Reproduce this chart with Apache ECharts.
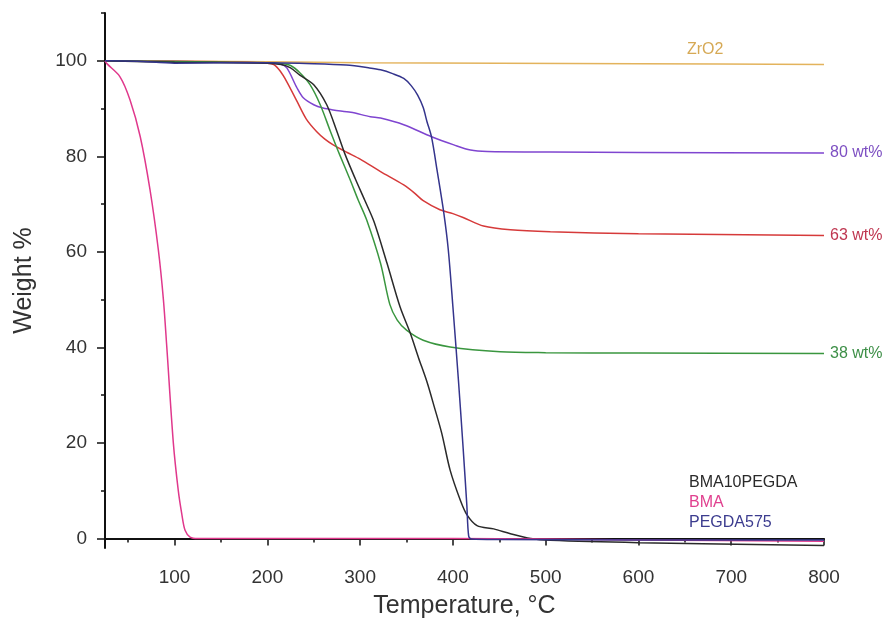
<!DOCTYPE html>
<html>
<head>
<meta charset="utf-8">
<script src="https://cdn.jsdelivr.net/npm/echarts@6.0.0/dist/echarts.min.js"></script>
<style>
html,body{margin:0;padding:0;background:#fff;}
#chart{width:885px;height:630px;}
</style>
</head>
<body>
<div id="chart"></div>
<script>
// ---- data: [temperature °C, weight %] ----
const zro2Data = [[25,100],[200,99.8],[300,99.6],[450,99.5],[600,99.4],[800,99.2]];
const wt80Data = [[25,100],[200,99.6],[214,99.3],[221,98.5],[232,94.3],[239,92.2],[250,90.8],[260,90.1],[271,89.7],[290,89.2],[311,88.3],[322,88],[347,86.6],[377,84.1],[401,82.4],[419,81.3],[437,81],[505,80.9],[600,80.8],[800,80.7]];
const wt63Data = [[25,100],[150,99.8],[200,99.5],[207,99.2],[214,97.8],[221,95.6],[232,91.5],[242,87.8],[253,85.2],[262,83.6],[271,82.4],[286,80.8],[300,79.4],[322,76.8],[347,74],[358,72.4],[368,70.7],[386,68.8],[400,68],[411,67.2],[433,65.4],[462,64.6],[505,64.2],[600,63.8],[800,63.4]];
const wt38Data = [[25,100],[200,99.6],[215,99.4],[225,99],[235,97.5],[246,95],[257,90.8],[268,85.2],[278,80.3],[289,75.2],[298,70.8],[307,66.7],[322,57.6],[332,49],[340,45.7],[350,43.6],[368,41.5],[397,40.1],[451,39.1],[500,38.9],[600,38.8],[800,38.7]];
const bma10pegdaData = [[25,100],[100,99.7],[200,99.5],[215,99.2],[225,98.5],[235,97],[250,95],[264,90.8],[275,85.2],[284,80.3],[295,75.2],[305,70.8],[315,66.3],[329,57.6],[343,48.5],[354,43],[363,37.8],[372,32.8],[380,27.5],[388,22],[397,14.3],[408,8],[415,5],[426,2.7],[444,2],[462,1],[484,0],[505,-0.4],[600,-0.9],[800,-1.5]];
const bmaData = [[25,100],[27,99.4],[41,96.7],[52,91.8],[63,84.1],[73.5,73],[82.5,60.4],[88,49.9],[91.6,40.1],[98.7,19.9],[104,10],[107.7,5.2],[111.3,1.7],[116.7,0.3],[125,0],[200,0],[400,0],[600,-0.3],[800,-0.6]];
const pegda575Data = [[25,100],[60,99.9],[100,99.5],[150,99.6],[200,99.6],[250,99.4],[285,99.1],[310,98.5],[322,98.1],[335,97.3],[347,96.3],[355,94.8],[362,92.8],[368,90.2],[372,87.3],[377,84],[383,77],[390,68.4],[395,60.5],[400,48.5],[406,33],[411,19],[415,7],[417,0.5],[420,-0.1],[450,-0.2],[600,-0.3],[800,-0.3]];

const xMajorTicks = [100,200,300,400,500,600,700,800];
const xMinorTicks = [50,150,250,350,450,550,650,750];
const yMajorTicks = [0,20,40,60,80,100];
const yMinorTicks = [10,30,50,70,90,110];

const FONT = 'Liberation Sans, Arial, sans-serif';
const AXIS_COLOR = '#111';
const TEXT_COLOR = '#333';

function line(name, data, color, label, labelColor) {
  const s = {
    name: name, type: 'line', data: data, showSymbol: false, symbol: 'none',
    smooth: 0.3, xAxisIndex: 0, yAxisIndex: 0,
    lineStyle: { color: color, width: 1.5 }, itemStyle: { color: color },
    silent: true
  };
  if (label) {
    s.endLabel = { show: true, formatter: label, color: labelColor, fontSize: 16, fontFamily: FONT, distance: 6 };
  }
  return s;
}

const chart = echarts.init(document.getElementById('chart'), null, { renderer: 'canvas' });
chart.setOption({
  animation: false,
  backgroundColor: '#fff',
  grid: { left: 105, right: 61, top: 13, bottom: 82 },
  xAxis: [{
    type: 'value', min: 25, max: 800, position: 'bottom',
    name: 'Temperature, °C', nameLocation: 'middle', nameGap: 46,
    nameTextStyle: { fontSize: 25, color: TEXT_COLOR, fontFamily: FONT },
    axisLine: { show: true, lineStyle: { color: AXIS_COLOR, width: 2 } },
    axisTick: { show: true, customValues: xMajorTicks, length: 7, lineStyle: { color: AXIS_COLOR, width: 1.5 } },
    axisLabel: { customValues: xMajorTicks, fontSize: 19, color: TEXT_COLOR, fontFamily: FONT, margin: 20 },
    splitLine: { show: false }
  }, {
    type: 'value', min: 25, max: 800, position: 'bottom', gridIndex: 0,
    axisLine: { show: false },
    axisTick: { show: true, customValues: xMinorTicks, length: 4, lineStyle: { color: AXIS_COLOR, width: 1.5 } },
    axisLabel: { show: false }, splitLine: { show: false }
  }],
  yAxis: [{
    type: 'value', min: -2, max: 110, position: 'left',
    name: 'Weight %', nameLocation: 'middle', nameGap: 68, nameRotate: 90,
    nameTextStyle: { fontSize: 25, color: TEXT_COLOR, fontFamily: FONT },
    axisLine: { show: true, lineStyle: { color: AXIS_COLOR, width: 2 } },
    axisTick: { show: true, customValues: yMajorTicks, length: 8, lineStyle: { color: AXIS_COLOR, width: 1.5 } },
    axisLabel: { customValues: yMajorTicks, fontSize: 19, color: TEXT_COLOR, fontFamily: FONT, margin: 18 },
    splitLine: { show: false }
  }, {
    type: 'value', min: -2, max: 110, position: 'left', gridIndex: 0,
    axisLine: { show: false },
    axisTick: { show: true, customValues: yMinorTicks, length: 4, lineStyle: { color: AXIS_COLOR, width: 1.5 } },
    axisLabel: { show: false }, splitLine: { show: false }
  }],
  series: [
    line('ZrO2', zro2Data, '#e3b35c'),
    line('80 wt%', wt80Data, '#7f45d0', '80 wt%', '#7d4fc2'),
    line('63 wt%', wt63Data, '#d63a3a', '63 wt%', '#bf3650'),
    line('38 wt%', wt38Data, '#3a963f', '38 wt%', '#3d8f47'),
    line('BMA10PEGDA', bma10pegdaData, '#2a2a2a'),
    line('BMA', bmaData, '#e0388c'),
    line('PEGDA575', pegda575Data, '#34348c')
  ],
  graphic: [
    { type: 'text', left: 687, top: 42, silent: true, style: { text: 'ZrO2', fill: '#d6a955', font: '16px ' + FONT } },
    { type: 'text', left: 689, top: 475, silent: true, style: { text: 'BMA10PEGDA', fill: '#2a2a2a', font: '16px ' + FONT } },
    { type: 'text', left: 689, top: 495, silent: true, style: { text: 'BMA', fill: '#e0408f', font: '16px ' + FONT } },
    { type: 'text', left: 689, top: 515, silent: true, style: { text: 'PEGDA575', fill: '#3c3c8f', font: '16px ' + FONT } }
  ]
});
</script>
</body>
</html>
